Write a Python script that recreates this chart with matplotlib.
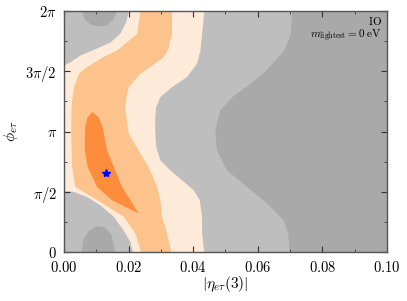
import numpy as np
import matplotlib
matplotlib.use('Agg')
import matplotlib.pyplot as plt
from matplotlib.ticker import MultipleLocator

plt.rcParams['mathtext.fontset'] = 'cm'
plt.rcParams['font.family'] = 'serif'

PI = np.pi

# contour boundaries (x = |eta|, y in units of pi)
# left edge of the darker gray region
dark_y = [0, 0.157, 0.268, 0.406, 0.544, 0.682, 0.848, 1.014, 1.180, 1.290, 1.400, 1.511, 1.677, 1.815, 2.0]
dark_x = [0.0697, 0.0693, 0.0678, 0.0627, 0.0565, 0.0503, 0.0472, 0.0467, 0.0482, 0.0520, 0.0575, 0.0625, 0.0680, 0.0701, 0.0704]

# right edge of the 3 sigma (peach) band
peach_y = [0, 0.157, 0.296, 0.434, 0.517, 0.599, 0.682, 0.765, 0.876, 1.014, 1.124, 1.207, 1.290, 1.373, 1.456, 1.566, 1.677, 2.0]
peach_x = [0.0433, 0.0426, 0.0426, 0.0419, 0.0400, 0.0364, 0.0328, 0.0297, 0.0284, 0.0281, 0.0281, 0.0284, 0.0297, 0.0333, 0.0379, 0.0410, 0.0421, 0.0433]

# 2 sigma band (light orange), left and right edges
lo_y = [0, 0.157, 0.296, 0.434, 0.544, 0.710, 0.986, 1.180, 1.262, 1.373, 1.483, 1.539, 1.622, 1.677, 1.815, 2.0]
lo_left = [0.0237, 0.0220, 0.0184, 0.0101, 0.0034, 0.0024, 0.0021, 0.0022, 0.0024, 0.0030, 0.0045, 0.0070, 0.0120, 0.0163, 0.0225, 0.0235]
lo_right = [0.0331, 0.0318, 0.0302, 0.0297, 0.0287, 0.0260, 0.0199, 0.0189, 0.0190, 0.0199, 0.0235, 0.0265, 0.0307, 0.0320, 0.0333, 0.0333]

# 1 sigma island (dark orange)
hi_y = [1.166, 1.124, 1.041, 0.848, 0.710, 0.544, 0.434, 0.323]
hi_left = [0.0086, 0.0072, 0.0064, 0.0063, 0.0072, 0.0101, 0.0147, 0.0230]
hi_right = [0.0086, 0.0106, 0.0118, 0.0132, 0.0153, 0.0178, 0.0204, 0.0230]

# gray corner regions at small |eta|
top_corner_x = [0, 0.0019, 0.0049, 0.0091, 0.0142, 0.0173, 0.0191, 0.0199]
top_corner_y = [1.552, 1.580, 1.635, 1.682, 1.743, 1.815, 1.912, 2.0]
bot_corner_x = [0, 0.0029, 0.0070, 0.0111, 0.0153, 0.0183, 0.0204, 0.0212]
bot_corner_y = [0.511, 0.503, 0.461, 0.392, 0.296, 0.185, 0.088, 0]

# darker gray blobs inside the corners
top_blob_x = [0.0055, 0.0062, 0.0080, 0.0105, 0.0130, 0.0150, 0.0163]
top_blob_y = [2.0, 1.94, 1.895, 1.875, 1.885, 1.93, 2.0]
bot_blob_x = [0.0053, 0.0058, 0.0075, 0.0100, 0.0125, 0.0145, 0.0158]
bot_blob_y = [0, 0.10, 0.18, 0.218, 0.21, 0.15, 0]

# best fit point
best_x = 0.0130
best_y = 0.657

c_dark = '#a9a9a9'
c_light = '#bebebe'
c_peach = '#feead8'
c_lo = '#fdc38c'
c_hi = '#fd8d3c'

fig = plt.figure(figsize=(4.07, 3.01), dpi=100)
ax = fig.add_axes([0.157, 0.163, 0.794, 0.800])
ax.set_facecolor(c_dark)

Y = lambda v: np.array(v) * PI

ax.fill_betweenx(Y(dark_y), 0, dark_x, color=c_light, lw=0)
ax.fill_betweenx(Y(peach_y), 0, peach_x, color=c_peach, lw=0)
ax.fill_between(top_corner_x, Y(top_corner_y), 2 * PI, color=c_light, lw=0)
ax.fill_between(bot_corner_x, 0, Y(bot_corner_y), color=c_light, lw=0)
ax.fill_between(top_blob_x, Y(top_blob_y), 2 * PI, color=c_dark, lw=0)
ax.fill_between(bot_blob_x, 0, Y(bot_blob_y), color=c_dark, lw=0)
ax.fill_betweenx(Y(lo_y), lo_left, lo_right, color=c_lo, lw=0)
ax.fill_betweenx(Y(hi_y), hi_left, hi_right, color=c_hi, lw=0)

ax.plot(best_x, best_y * PI, marker='*', color='blue', ms=6, ls='none')

ax.set_xlim(0, 0.1)
ax.set_ylim(0, 2 * PI)

ax.set_xticks([0, 0.02, 0.04, 0.06, 0.08, 0.1])
ax.set_xticklabels(['$0.00$', '$0.02$', '$0.04$', '$0.06$', '$0.08$', '$0.10$'])
ax.set_yticks([0, PI / 2, PI, 3 * PI / 2, 2 * PI])
ax.set_yticklabels(['$0$', r'$\pi/2$', r'$\pi$', r'$3\pi/2$', r'$2\pi$'])
ax.xaxis.set_minor_locator(MultipleLocator(0.01))
ax.yaxis.set_minor_locator(MultipleLocator(PI / 4))
ax.tick_params(which='both', direction='in', top=True, right=True, labelsize=10.5, color='#333333')
ax.tick_params(which='major', length=4, width=0.8)
ax.tick_params(axis='x', pad=6)
ax.tick_params(axis='y', pad=5)
ax.tick_params(which='minor', length=2, width=0.6)
for s in ax.spines.values():
    s.set_color('#555555')
    s.set_linewidth(1.0)

ax.set_xlabel(r'$|\eta_{e\tau}(3)|$', fontsize=11, labelpad=-1)
ax.set_ylabel(r'$\phi_{e\tau}$', fontsize=11, labelpad=4)

ax.text(0.985, 0.985, r'$\mathrm{IO}$', transform=ax.transAxes, ha='right', va='top', fontsize=8)
ax.text(0.985, 0.93, r'$m_{\rm lightest}=0\ \mathrm{eV}$', transform=ax.transAxes, ha='right', va='top', fontsize=8)

fig.savefig('out.png', dpi=100)
